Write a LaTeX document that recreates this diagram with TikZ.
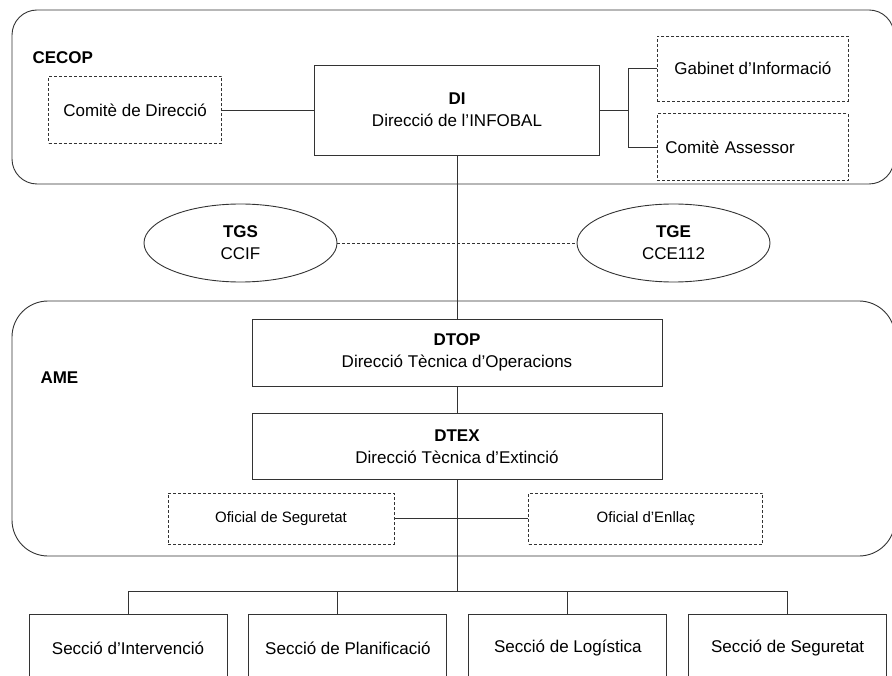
\documentclass[tikz,border=0pt]{standalone}
\usepackage{fontspec}
\setmainfont{Liberation Sans}
\usetikzlibrary{positioning, shapes.geometric, calc}
\tikzset{main node/.style={rectangle, draw=black!80, line width=0.9pt, inner sep=0pt, align=center},
	dashed node/.style={main node, dash pattern=on 3pt off 2pt},
	oval node/.style={ellipse, draw=black!80, line width=0.9pt, inner sep=0pt, align=center, minimum width=193pt, minimum height=78pt},
	section node/.style={main node, minimum width=198pt, minimum height=68pt},
	group/.style={draw=black!80, line width=0.9pt},
	group label/.style={anchor=west, font=\fontsize{17}{22}\selectfont\bfseries},
	small text/.style={font=\fontsize{15}{18}\selectfont},
	link/.style={draw=black!80, line width=0.9pt},}

\begin{document}
\begin{tikzpicture}[x=1pt, y=-1pt, font=\fontsize{17}{22}\selectfont]
			\useasboundingbox (0,0) rectangle (892,676);
			\clip (0,0) rectangle (892,676);

			% Groups
			\draw[group, rounded corners=25pt] (12,10) rectangle (894,184);
			\draw[group, rounded corners=36pt] (12,301) rectangle (895,556);
			\node[group label] (cecop) at (29,58) {CECOP};
			\node[group label] (ame) at (37,378) {AME};

			% Boxes
			\node[main node, minimum width=285pt, minimum height=90pt] (di) at (457,110) {\textbf{DI}\\Direcció de l’INFOBAL};
			\node[dashed node, minimum width=173pt, minimum height=67pt] [left = 92pt of di] (cdir) {Comitè de Direcció};
			\node[dashed node, minimum width=191pt, minimum height=65pt] [right = 57pt of di, yshift=41.5pt] (gab) {Gabinet d’Informació};
			\node[dashed node, minimum width=191pt, minimum height=67pt, text width=175pt, inner xsep=8pt, align=left] [below = 12pt of gab] (ass) {Comitè Assessor};
			\node[oval node] (tgs) at (240.5,243) {\textbf{TGS}\\CCIF};
			\node[oval node] (tge) at (673.5,243) {\textbf{TGE}\\CCE112};
			\node[main node, minimum width=410pt, minimum height=67pt] (dtop) at (457,352.5) {\textbf{DTOP}\\Direcció Tècnica d’Operacions};
			\node[main node, minimum width=410pt, minimum height=66pt] [below = 27pt of dtop] (dtex) {\textbf{DTEX}\\Direcció Tècnica d’Extinció};
			\node[dashed node, small text, minimum width=226pt, minimum height=51pt] (ofseg) at (281,518.5) {Oficial de Seguretat};
			\node[dashed node, small text, minimum width=234pt, minimum height=51pt] [right = 134pt of ofseg] (ofenl) {Oficial d’Enllaç};
			\node[section node] (sec1) at (128,648) {Secció d’Intervenció};
			\node[section node] [right = 21pt of sec1] (sec2) {Secció de Planificació};
			\node[section node] [right = 21pt of sec2] (sec3) {Secció de Logística};
			\node[section node] [right = 21pt of sec3] (sec4) {Secció de Seguretat};

			% Paths
			\coordinate [right = 28pt of di.east] (br);
			\coordinate [below = 111pt of dtex.south] (bus);
			\path[link]
			(cdir) edge (di)
			(di.south) edge (dtop.north)
			(dtop.south) edge (dtex.north)
			(dtex.south) edge (bus)
			(ofseg) edge (ofenl)
			(di.east) edge (br);
			\draw[link] (gab.west) -| (br) |- (ass.west);
			\draw[link] (sec1.north) |- (bus) -| (sec4.north);
			\draw[link] (bus) -| ([xshift=-10pt]sec2.north);
			\draw[link] (bus) -| (sec3.north);
			\path[link, dash pattern=on 3pt off 2pt] (tgs) edge (tge);
		\end{tikzpicture}
\end{document}
